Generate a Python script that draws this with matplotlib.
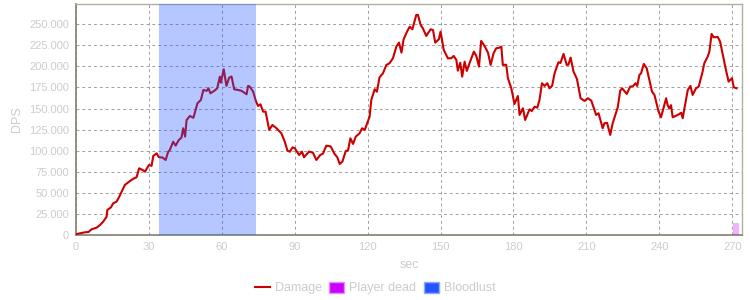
"""DPS over time with Bloodlust window and player-death marker."""

import matplotlib

matplotlib.use("Agg")
import matplotlib.pyplot as plt
from matplotlib.lines import Line2D
from matplotlib.patches import Patch
from matplotlib.ticker import FuncFormatter


SEC = [
    0, 1.6, 3.7, 5.1, 6.4, 8.5, 9.9, 11.2, 12.6, 12.9, 14.4, 15.3, 16.7, 17.8,
    18.8, 20.1, 22.2, 23.6, 24.9, 26.0, 27.4, 28.4, 30.0, 31.1, 31.8, 33.2,
    34.1, 35.5, 36.9, 37.9, 38.6, 40.0, 41.0, 42.3, 43.4, 44.1, 44.9, 45.5,
    46.9, 48.3, 50.0, 51.4, 52.4, 53.8, 54.5, 55.3, 56.9, 58.1, 59.2, 59.6,
    60.8, 61.9, 63.0, 64.0, 65.1, 66.7, 68.1, 70.2, 70.8, 71.5, 72.9, 74.0,
    74.9, 75.9, 77.0, 78.0, 79.5, 80.8, 82.5, 84.5, 85.9, 87.0, 88.0, 89.1,
    90.0, 91.8, 93.0, 93.8, 95.9, 97.5, 98.9, 100.5, 101.6, 103.0, 104.8,
    106.4, 107.5, 108.5, 109.6, 111.0, 111.9, 112.9, 114.0, 115.1, 116.7,
    117.7, 118.8, 120.8, 121.5, 122.9, 123.8, 124.9, 126.3, 127.7, 129.0,
    130.4, 131.8, 132.9, 133.9, 134.8, 136.2, 137.3, 138.4, 140.0, 140.7,
    141.8, 142.7, 144.1, 145.9, 146.9, 147.8, 149.3, 150.0, 151.3, 153.0,
    154.4, 155.4, 156.5, 157.1, 158.1, 158.9, 159.9, 160.8, 161.9, 163.7,
    164.7, 165.8, 166.7, 168.1, 169.5, 170.6, 171.8, 172.9, 174.0, 175.0,
    175.6, 177.0, 177.7, 179.1, 180.4, 181.8, 182.5, 183.9, 184.8, 186.6,
    187.5, 188.7, 189.8, 190.7, 191.7, 192.8, 193.9, 194.8, 195.9, 196.9,
    198.5, 199.3, 200.6, 201.9, 202.6, 203.5, 204.7, 206.1, 207.6, 209.2,
    210.6, 212.0, 214.0, 215.0, 216.7, 217.4, 218.5, 219.8, 220.8, 222.9,
    223.9, 224.7, 226.6, 228.0, 229.1, 230.2, 230.9, 231.8, 232.5, 233.6,
    234.8, 235.9, 237.0, 238.0, 239.7, 240.7, 241.7, 242.8, 243.4, 244.1,
    244.8, 245.5, 247.6, 249.0, 249.6, 251.7, 252.8, 253.7, 255.1, 256.2,
    257.8, 258.5, 259.9, 260.6, 261.5, 262.3, 263.3, 264.0, 265.0, 266.4,
    267.4, 268.5, 269.9, 270.6, 271.8,
]
DPS = [
    1000, 2000, 3200, 3500, 6700, 8700, 11900, 15800, 21700, 29700, 32800,
    37600, 39500, 45400, 51400, 59300, 64000, 66800, 68400, 79100, 77100,
    75100, 83000, 82000, 93700, 96900, 92200, 92000, 89000, 98500, 100800,
    110700, 106000, 112700, 115400, 126600, 116700, 136400, 141200, 139000,
    156300, 160200, 172000, 171000, 174000, 168100, 171000, 174000, 187800,
    180700, 196500, 176800, 186500, 188000, 172800, 172000, 171000, 166900,
    176800, 176000, 170000, 159000, 153000, 155000, 146300, 146300, 124600,
    130500, 126600, 120600, 110700, 100000, 98800, 104000, 103000, 94900,
    98800, 92200, 99000, 97600, 89000, 94900, 96400, 106000, 105000, 96100,
    92200, 84200, 87000, 99700, 100000, 114700, 108000, 116600, 120700,
    126600, 124600, 140400, 160200, 172900, 170000, 187100, 191800, 201700,
    203700, 209600, 223400, 228200, 216300, 232200, 241200, 247100, 244000,
    261000, 261000, 249200, 245200, 236100, 244000, 243000, 228200, 232200,
    241200, 219500, 209600, 209600, 212400, 207600, 194900, 204400, 187800,
    205600, 194600, 203700, 217500, 212400, 199700, 230200, 224200, 216300,
    201700, 215600, 221500, 222000, 223400, 201700, 202000, 186000, 174000,
    155400, 164900, 142400, 150300, 136400, 149100, 147000, 152200, 151000,
    160200, 180000, 176800, 180000, 174000, 177000, 191800, 204900, 204000,
    214800, 201700, 202000, 210400, 193800, 185100, 162200, 159000, 162200,
    159400, 142400, 144400, 126600, 132500, 133000, 118700, 132500, 151500,
    171200, 174000, 167300, 176000, 176400, 180000, 176800, 189800, 191800,
    202900, 197800, 183900, 170000, 166100, 146300, 139600, 150300, 162200,
    154200, 150000, 154000, 139600, 142400, 145000, 138500, 172000, 176800,
    166100, 174000, 176000, 193800, 203700, 211600, 217500, 238500, 234600,
    234600, 235000, 229400, 209600, 195800, 181900, 186000, 175200, 174000,
]

BLOODLUST = (34, 74)
PLAYER_DEAD_SEC = [270.5]
PLAYER_DEAD_HEIGHT = [14000]

LINE_COLOR = "#cc0000"
DEAD_COLOR = "#cc00ff"
LUST_COLOR = "#2255ff"
TEXT_COLOR = "#cccccc"


def thousands(value, _pos):
    return f"{int(value):,}".replace(",", ".")


def main():
    plt.rcParams["font.family"] = ["Liberation Sans", "DejaVu Sans"]
    figure = plt.figure(figsize=(7.5, 3.0), dpi=100)
    axis = figure.add_axes([0.1013, 0.2167, 0.888, 0.77])

    axis.plot(SEC, DPS, color=LINE_COLOR, linewidth=1.5, zorder=3)
    axis.axvspan(*BLOODLUST, color=LUST_COLOR, alpha=0.33, linewidth=0, zorder=4)
    axis.bar(
        PLAYER_DEAD_SEC,
        PLAYER_DEAD_HEIGHT,
        width=2.1,
        align="edge",
        color=DEAD_COLOR,
        alpha=0.3,
        linewidth=0,
        zorder=4,
    )

    axis.set_xlim(0, 274)
    axis.set_ylim(0, 274000)
    axis.set_xticks(range(0, 271, 30))
    axis.set_yticks(range(0, 250001, 25000))
    axis.yaxis.set_major_formatter(FuncFormatter(thousands))
    axis.grid(True, color="#a0a0a0", linestyle=(0, (3, 3)), linewidth=0.7)
    axis.set_axisbelow(True)
    axis.tick_params(length=0, labelsize=8, colors=TEXT_COLOR, pad=5)

    for side in ("left", "bottom"):
        axis.spines[side].set_color("#808070")
        axis.spines[side].set_linewidth(1.2)
    for side in ("top", "right"):
        axis.spines[side].set_color("#b0b0a0")
        axis.spines[side].set_linewidth(1.0)

    axis.set_xlabel("sec", color=TEXT_COLOR, fontsize=9, labelpad=5)
    axis.set_ylabel("DPS", color=TEXT_COLOR, fontsize=9, labelpad=4)

    handles = [
        Line2D([0], [0], color=LINE_COLOR, linewidth=1.5, label="Damage"),
        Patch(facecolor=DEAD_COLOR, edgecolor="#e090ff", label="Player dead"),
        Patch(facecolor=LUST_COLOR, edgecolor="#90a8ff", label="Bloodlust"),
    ]
    figure.legend(
        handles=handles,
        loc="center",
        bbox_to_anchor=(0.5, 0.04),
        ncol=3,
        frameon=False,
        fontsize=9,
        labelcolor=TEXT_COLOR,
        handlelength=1.2,
        handleheight=1.0,
        handletextpad=0.4,
        columnspacing=0.6,
    )

    figure.savefig("out.png", dpi=100, facecolor="white")
    plt.close(figure)


if __name__ == "__main__":
    main()
